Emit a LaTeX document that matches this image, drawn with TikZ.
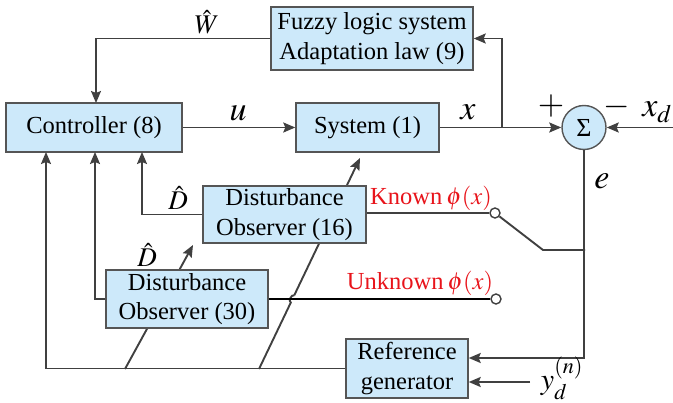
\documentclass[tikz,border=0pt]{standalone}
\usepackage{mathptmx}
\usepackage[no-math]{fontspec}
\setmainfont{Liberation Serif}
\newfontfamily\tnr{Liberation Serif}
\usetikzlibrary{arrows.meta,calc}
\definecolor{boxfill}{RGB}{205,233,250}
\definecolor{boxline}{RGB}{85,85,85}
\definecolor{wire}{RGB}{64,64,64}
\definecolor{lblred}{RGB}{232,20,27}
\begin{document}
\begin{tikzpicture}[x=1pt,y=-1pt,
  font=\tnr\fontsize{24.5}{29.5}\selectfont,
  blk/.style={draw=boxline,line width=1.4pt,fill=boxfill,inner sep=0pt,align=center},
  wr/.style={draw=wire,line width=1.9pt},
  arr/.style={wr,-{Stealth[length=12pt,width=10pt,inset=2pt]}},
  term/.style={circle,draw=wire,line width=1.4pt,fill=white,minimum size=10pt,inner sep=0pt},
  lbl/.style={inner sep=0pt},
  big/.style={inner sep=0pt,font=\fontsize{34}{36}\selectfont},
  hatl/.style={inner sep=0pt,font=\fontsize{27}{30}\selectfont},
  red lbl/.style={inner sep=0pt,text=lblred}]
\useasboundingbox (0,0) rectangle (673,403);
% diagonal lines behind the observer boxes
\draw[arr] (125,369) -- (193,245);
\coordinate (p1) at (290.8,302.6);
\coordinate (p2) at (294.2,295.4);
\draw[wr] (259,369) -- (p1) to[bend left=90] (p2);
\draw[arr] (p2) -- (360,158);
% blocks
\node[blk,minimum width=202pt,minimum height=63pt] (fuzzy) at (372,38.5) {Fuzzy logic system\\Adaptation law (9)};
\node[blk,minimum width=176pt,minimum height=49pt] (ctrl) at (94,127.5) {Controller (8)};
\node[blk,minimum width=143pt,minimum height=49pt] (sys) at (367.5,127.5) {System (1)};
\node[blk,circle,minimum size=44pt,font=\tnr\fontsize{26}{28}\selectfont] (sum) at (584,127.5) {Σ};
\node[blk,minimum width=163pt,minimum height=57pt] (do16) at (284.5,214.5) {Disturbance\\Observer (16)};
\node[blk,minimum width=162pt,minimum height=58pt] (do30) at (187,299) {Disturbance\\Observer (30)};
\node[blk,minimum width=122pt,minimum height=59pt] (ref) at (407,368.5) {Reference\\generator};
\node[term] (kc) at (495,213) {};
\node[term] (uc) at (496,299) {};
% coordinates
\coordinate (cW) at (96,103);
\coordinate (c1) at (46,152);
\coordinate (c2) at (95,152);
\coordinate (c3) at (142,152);
\coordinate (br) at (502,127.5);
\coordinate (xdin) at (673,127.5);
\coordinate (ydin) at (530,382);
\coordinate (sw) at (585,250);
\coordinate (swk) at (543,250);
% connectors
\draw[arr] (fuzzy.west) -| (cW);
\draw[arr] (ctrl.east) -- (sys.west);
\draw[arr] (sys.east) -- (sum.west);
\draw[arr] (br) |- (fuzzy.east);
\draw[arr] (xdin) -- (sum.east);
\draw[arr] (sum.south) |- ($(ref.east)+(0,-10.5)$);
\draw[arr] (ydin) -- (ref.east |- ydin);
\draw[wr] (sw) -- (swk) -- (kc);
\draw[wr] (do16.east |- kc) -- (kc);
\draw[wr,draw=black] (do30.east |- uc) -- (uc);
\draw[arr] (do16.west) -| (c3);
\draw[arr] (do30.west) -| (c2);
\draw[arr] (ref.west) -| (c1);
% labels
\node[hatl] (lW) at (207,22) {$\hat{W}$};
\node[big] (lu) at (238,113) {$u$};
\node[big] (lx) at (468,112) {$x$};
\node[big] (lp) at (551,106) {$+$};
\node[big] (lm) at (617,107) {$-$};
\node[big] (lxd) at (657,112) {$x_d$};
\node[big] (le) at (602,181) {$e$};
\node[hatl] (lD1) at (178,198) {$\hat{D}$};
\node[hatl] (lD2) at (147,255) {$\hat{D}$};
\node[red lbl] (lk) at (431,198) {Known\,$\phi(x)$};
\node[red lbl] (lun) at (420,283) {Unknown\,$\phi(x)$};
\node[lbl,font=\fontsize{30}{32}\selectfont] (lyd) at (562,378) {$y_d^{(n)}$};
\end{tikzpicture}
\end{document}
